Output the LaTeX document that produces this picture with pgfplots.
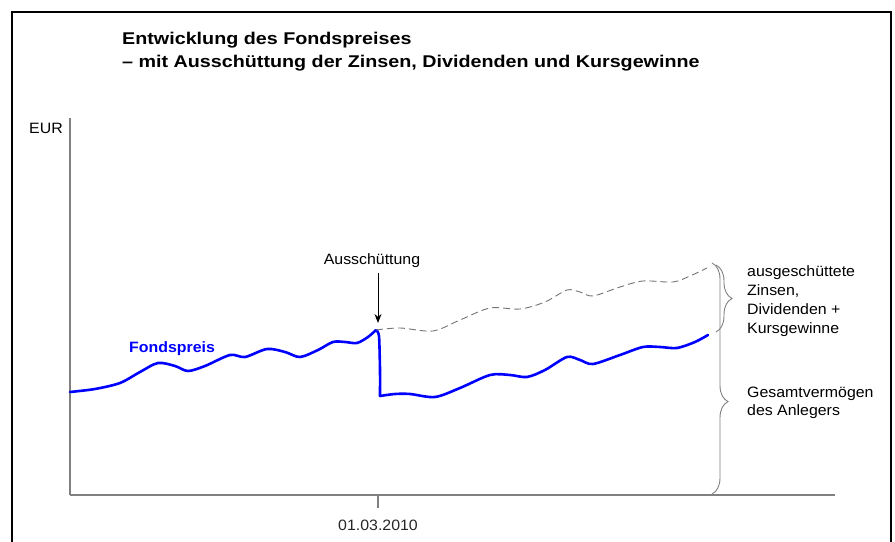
\documentclass[border=0pt]{standalone}
\usepackage{fontspec}
\setmainfont{Liberation Sans}[FakeStretch=1.06]
\newfontfamily\titlefont{Liberation Sans}[FakeStretch=1.16]
\usepackage{pgfplots}
\pgfplotsset{compat=1.18}
\usetikzlibrary{arrows.meta,decorations.pathreplacing}
\definecolor{axgray}{RGB}{128,128,128}
\definecolor{fondblue}{RGB}{0,0,255}
\begin{document}
\begin{tikzpicture}[x=1bp,y=1bp]
\useasboundingbox (0,0) rectangle (895,542);
% frame
\draw[line width=2bp,black] (12,0) -- (12,530) -- (891,530) -- (891,0);
% title
\node[anchor=base west,inner sep=0pt,font=\titlefont\bfseries\fontsize{17bp}{23bp}\selectfont] at (122,497) {Entwicklung des Fondspreises};
\node[anchor=base west,inner sep=0pt,font=\titlefont\bfseries\fontsize{17bp}{23bp}\selectfont] at (122,474) {– mit Ausschüttung der Zinsen, Dividenden und Kursgewinne};
\begin{axis}[
  at={(70,47)}, anchor=south west,
  scale only axis, width=765bp, height=377bp,
  xmin=0, xmax=765, ymin=0, ymax=377,
  axis lines=left,
  axis line style={axgray, line width=1.2bp, -},
  ytick=\empty,
  xtick={308}, xticklabels={01.03.2010},
  tick align=outside, major tick length=13bp,
  tick style={axgray, line width=1.2bp},
  xticklabel style={font=\fontsize{15bp}{17bp}\selectfont, text=black!85, yshift=-9bp},
  clip=false,
]
% Fondspreis before distribution
\addplot[fondblue, line width=2.6bp, smooth, tension=0.5, line join=round, line cap=round] coordinates {
(0,103) (25,106) (50,112) (70,123) (88,132) (105,129) (118,124) (135,129)
(160,140) (175,138) (197,146) (215,143) (230,138) (248,145) (263,153)
(275,153) (287,152) (298,158) (306,165)
};
% distribution drop
\addplot[fondblue, line width=2.6bp, smooth, tension=0.4, line join=round, line cap=round] coordinates {
(306,165) (309,159) (310,125) (310,99)
};
% Fondspreis after distribution
\addplot[fondblue, line width=2.6bp, smooth, tension=0.5, line join=round, line cap=round] coordinates {
(310,99) (325,101) (340,101) (365,98) (390,107) (420,120) (440,120) (457,118)
(475,125) (497,138) (510,135) (523,131) (550,140) (573,148) (590,148)
(607,147) (625,153) (638,160)
};
% total value without distribution (dashed)
\addplot[axgray!90!black, line width=0.9bp, dash pattern=on 7bp off 4bp, smooth, tension=0.5] coordinates {
(306,165) (330,167) (363,164) (390,175) (420,187) (450,186) (475,193)
(497,205) (510,203) (523,199) (550,208) (573,214) (603,213) (620,219) (637,227)
};
\end{axis}
% labels
\node[anchor=base east,inner sep=0pt,font=\fontsize{15bp}{17bp}\selectfont] at (63,408) {EUR};
\node[anchor=base,inner sep=0pt,font=\fontsize{15bp}{17bp}\selectfont] at (372,277) {Ausschüttung};
\draw[line width=1bp,-{Stealth[length=9bp,width=7bp]}] (378,269) -- (378,219);
\node[anchor=base west,inner sep=0pt,text=fondblue,font=\bfseries\fontsize{15bp}{17bp}\selectfont] at (129,189) {Fondspreis};
% braces
\draw[axgray, line width=0.9bp, decorate, decoration={brace, amplitude=16bp, aspect=0.5}] (716,277) -- (716,210);
\draw[axgray, line width=0.9bp, decorate, decoration={brace, amplitude=16bp, aspect=0.6}] (712,279) -- (712,48);
\node[anchor=base west,inner sep=0pt,font=\fontsize{15bp}{17bp}\selectfont] at (747,265) {ausgeschüttete};
\node[anchor=base west,inner sep=0pt,font=\fontsize{15bp}{17bp}\selectfont] at (747,246) {Zinsen,};
\node[anchor=base west,inner sep=0pt,font=\fontsize{15bp}{17bp}\selectfont] at (747,227) {Dividenden +};
\node[anchor=base west,inner sep=0pt,font=\fontsize{15bp}{17bp}\selectfont] at (747,208) {Kursgewinne};
\node[anchor=base west,inner sep=0pt,font=\fontsize{15bp}{17bp}\selectfont] at (747,144) {Gesamtvermögen};
\node[anchor=base west,inner sep=0pt,font=\fontsize{15bp}{17bp}\selectfont] at (747,126) {des Anlegers};
\end{tikzpicture}
\end{document}
